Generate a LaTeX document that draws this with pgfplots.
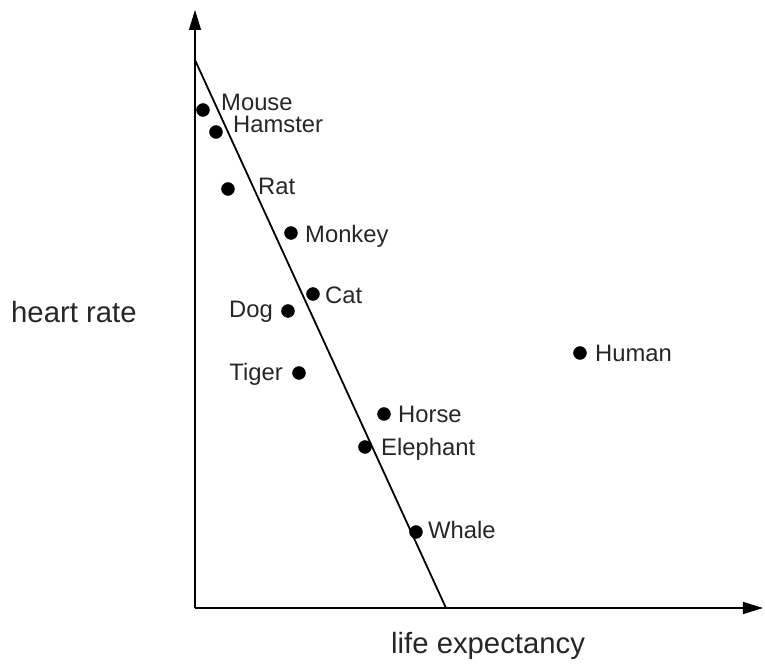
\documentclass[border=0pt]{standalone}
\usepackage{pgfplots}
\pgfplotsset{compat=1.18}
\usepackage{pgfplotstable}
\usetikzlibrary{arrows.meta}
\usepackage{fontspec}
\setmainfont{Liberation Sans}

\pgfplotstableread{
x y
8 498
21 476
33 419
96 375
118 314
93 297
104 235
189 194
170 161
221 76
385 255
}\animals

\pgfplotstableread{
x y
0 548
251 0
}\fitline

\begin{document}
\begin{tikzpicture}
\path[use as bounding box] (-195bp,-56bp) rectangle (570bp,608bp);
\begin{axis}[
  anchor=origin, at={(0,0)},
  x=1bp, y=1bp,
  xmin=0, xmax=568, ymin=0, ymax=598,
  axis lines=left,
  axis line style={line width=1.4bp, -{Triangle[length=20bp,width=12bp]}},
  xtick=\empty, ytick=\empty,
  clip=false,
]
\addplot[line width=1.8bp, black] table {\fitline};
\addplot[only marks, mark=*, mark size=6.5bp, black] table {\animals};

\begin{scope}[every node/.append style={inner sep=0pt, text=black!85, font=\fontsize{23.8bp}{28bp}\selectfont}]
\node[anchor=base west] at (axis cs:26,497) {Mouse};
\node[anchor=base west] at (axis cs:38,475) {Hamster};
\node[anchor=base west] at (axis cs:63,413) {Rat};
\node[anchor=base west] at (axis cs:110,366) {Monkey};
\node[anchor=base west] at (axis cs:130,305) {Cat};
\node[anchor=base east] at (axis cs:78,291) {Dog};
\node[anchor=base east] at (axis cs:88,228) {Tiger};
\node[anchor=base west] at (axis cs:203,186) {Horse};
\node[anchor=base west] at (axis cs:186,153) {Elephant};
\node[anchor=base west] at (axis cs:233,70) {Whale};
\node[anchor=base west] at (axis cs:400,247) {Human};
\end{scope}
\begin{scope}[every node/.append style={inner sep=0pt, text=black!85, font=\fontsize{29.3bp}{34bp}\selectfont}]
\node[anchor=base west] at (axis cs:-184,286) {heart rate};
\node[anchor=base west] at (axis cs:196,-45) {life expectancy};
\end{scope}
\end{axis}
\end{tikzpicture}
\end{document}
